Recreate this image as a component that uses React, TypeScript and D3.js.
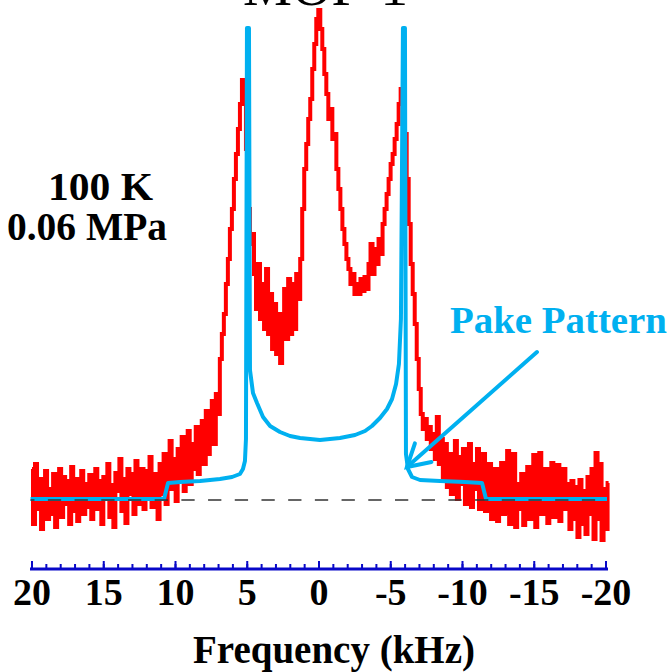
import React from "react";
import * as d3 from "d3";

// ---------- data ----------
const TITLE = "MOF-1";
const CONDITION_LINES = ["100 K", "0.06 MPa"];
const X_LABEL = "Frequency (kHz)";
const PAKE_LABEL = "Pake Pattern";

const MAJOR_TICKS = [20, 15, 10, 5, 0, -5, -10, -15, -20];
const MINOR_TICKS = d3.range(-20, 21, 1);

// measured spectrum (a.u.), sampled every 0.14 kHz starting at 20 kHz
const RED_START_KHZ = 20;
const RED_STEP_KHZ = 0.14;
const redIntensity = [
  30, -25, 35, -10, 20, -30, 15, 28, -20, 10, -15, 25, -28, 5, 30, -18, 22, -5, 18, -25,
  32, -12, 20, -22, 8, 28, -15, 15, -8, 24, -20, 12, 30, -10, 18, -25, 22, 0, 35, -18,
  14, -28, 26, 8, 40, -12, 20, -24, 30, 5, 25, -15, 38, -5, 22, 30, -10, 28, 0, 42,
  -8, 25, 15, -20, 35,
  5, 45, -5, 30, 58, 10, 40, -2, 50, 20, 62, 8, 45, 68, 15, 55, 30, 72, 25, 60,
  78, 35, 88, 45, 75, 98, 55, 105, 85, 140,
  165, 185, 215, 240, 270, 290, 320, 345, 370, 395, 419, 405, 350, 290, 255, 265,
  225, 190, 235, 180, 215, 170, 230, 165, 205, 150, 195, 145, 185, 136, 175, 210, 160, 220, 165, 215,
  170, 225, 200, 240,
  290, 330, 355, 380, 400, 430, 455, 480, 489, 470,
  450, 425, 405, 380, 390, 360, 365, 330, 310, 290, 270, 255, 240, 230, 215, 225, 205, 215, 205, 220,
  208, 222, 210, 235, 255, 225, 250, 235, 260, 245, 275, 290, 305, 320, 335, 345, 360, 375, 395, 410,
  400,
  365, 320, 275, 235, 205, 175, 140, 110, 85, 70, 80, 60, 72, 50, 65, 40, 82, 35, 60,
  20, 55, 12, 45, 5, 38, 58, 0, 42, 15, 50, -5, 30, 55, -8, 35, 10, 50, -10, 25,
  45, -12, 20, 35, -20, 15, 30, -22, 10, 36, -15, 5, 48, -25, 20, 45, -28, 15, -10, 25,
  -26, 10, 32, -20, 18, 44, -28, 20, 46, -15, 8, 30, -24, 12, 36, -18, 25, 34, -22, 5,
  30, -10, 15, -30, 18, -20, 12, -38, 19, -25, 8, -35, 22, -15, 30, -40, 46, -20, 35, -41,
  10, -30, 16,
];

// simulated Pake pattern (a.u.)
const pakeFreq = [
  20.1, 10.8, 10.66, 10.52, 9.69, 8.29, 6.9, 6.06, 5.51, 5.3, 5.16, 5.09, 5.02, 4.88,
  4.81, 4.6, 4.32, 3.9, 3.41, 2.72, 2.02, 1.32, -0.07, -1.46, -2.51, -3.21, -3.69, -4.25,
  -4.74, -5.09, -5.37, -5.57, -5.71, -5.85, -5.99, -6.06, -6.2, -6.48, -7.04, -8.43,
  -10.17, -11.36, -11.5, -11.64, -20.07,
];
const pakeIntensity = [
  0, 0, 8, 16, 17, 18, 20, 22, 25, 30, 38, 60, 471, 471,
  129, 106, 96, 82, 73, 67, 63, 61, 59, 61, 64, 68, 73, 81,
  90, 100, 115, 135, 180, 471, 471, 45, 30, 22, 19, 18,
  17, 16, 8, 0, 0,
];

// arrow annotation (tail -> tip), in data units
const arrowFreq = [-15.19, -6.13];
const arrowIntensity = [147, 32];

const RED = "#ff0000";
const CYAN = "#00b0f0";
const AXIS_BLUE = "#0808c8";
const SERIF = "Liberation Serif";

export default function App() {
  const W = 672;
  const H = 672;
  const x = d3.scaleLinear().domain([20, -20]).range([32, 606]);
  const y = d3.scaleLinear().domain([0, 500]).range([499, -1]);

  const redPts: [number, number][] = redIntensity.map((v, i) => [
    RED_START_KHZ - i * RED_STEP_KHZ,
    v,
  ]);
  const redLine = d3
    .line<[number, number]>()
    .x((d) => x(d[0]))
    .y((d) => y(d[1]))
    .curve(d3.curveStep);

  const pakePts: [number, number][] = pakeFreq.map((f, i) => [f, pakeIntensity[i]]);
  const pakeLine = d3
    .line<[number, number]>()
    .x((d) => x(d[0]))
    .y((d) => y(d[1]));

  const axisY = 569;

  // arrow geometry
  const tx = x(arrowFreq[1]);
  const ty = y(arrowIntensity[1]);
  const sx = x(arrowFreq[0]);
  const sy = y(arrowIntensity[0]);
  const ang = Math.atan2(sy - ty, sx - tx);
  const headLen = 25;
  const spread = (30 * Math.PI) / 180;
  const h1 = [tx + headLen * Math.cos(ang - spread), ty + headLen * Math.sin(ang - spread)];
  const h2 = [tx + headLen * Math.cos(ang + spread), ty + headLen * Math.sin(ang + spread)];

  const serif = { fontFamily: SERIF };

  return (
    <svg
      width={W}
      height={H}
      viewBox={`0 0 ${W} ${H}`}
      style={{ position: "absolute", left: 0, top: 0, background: "#fff" }}
    >
      <rect width={W} height={H} fill="#fff" />
      {/* title (cut off at top, as in the original) */}
      <text x={243} y={5} fontSize={55} fill="#000" style={serif} textLength={165} lengthAdjust="spacingAndGlyphs">
        {TITLE}
      </text>

      {/* measured spectrum */}
      <path d={redLine(redPts) || ""} fill="none" stroke={RED} strokeWidth={4} strokeLinejoin="miter" />

      {/* Pake pattern */}
      <path
        d={pakeLine(pakePts) || ""}
        fill="none"
        stroke={CYAN}
        strokeWidth={4}
        strokeLinejoin="round"
        strokeLinecap="butt"
      />

      {/* zero baseline */}
      <line
        x1={x(20.1)}
        x2={x(-20.07)}
        y1={y(-1)}
        y2={y(-1)}
        stroke="#333"
        strokeWidth={1.6}
        strokeDasharray="13.3 13.4"
        strokeDashoffset={9.4}
      />

      {/* arrow */}
      <g stroke={CYAN} strokeWidth={4} strokeLinecap="round" fill="none">
        <line x1={sx} y1={sy} x2={tx} y2={ty} />
        <polyline points={`${h1[0]},${h1[1]} ${tx},${ty} ${h2[0]},${h2[1]}`} strokeLinejoin="miter" />
      </g>
      <text
        x={450}
        y={333}
        fontSize={38}
        fontWeight="bold"
        fill={CYAN}
        style={serif}
        textLength={217}
        lengthAdjust="spacingAndGlyphs"
      >
        {PAKE_LABEL}
      </text>

      {/* condition labels */}
      <text x={48} y={200} fontSize={39} fontWeight="bold" fill="#000" style={serif} textLength={105} lengthAdjust="spacingAndGlyphs">
        {CONDITION_LINES[0]}
      </text>
      <text x={7} y={240} fontSize={39} fontWeight="bold" fill="#000" style={serif} textLength={160} lengthAdjust="spacingAndGlyphs">
        {CONDITION_LINES[1]}
      </text>

      {/* x axis */}
      <g stroke={AXIS_BLUE}>
        <line x1={x(20) - 2} x2={x(-20) + 2} y1={axisY} y2={axisY} strokeWidth={3} />
        {MINOR_TICKS.map((t) => (
          <line key={"m" + t} x1={x(t)} x2={x(t)} y1={axisY} y2={axisY - 5} strokeWidth={2} />
        ))}
        {MAJOR_TICKS.map((t) => (
          <line key={"M" + t} x1={x(t)} x2={x(t)} y1={axisY} y2={axisY - 8} strokeWidth={2} />
        ))}
      </g>
      {MAJOR_TICKS.map((t) => (
        <text
          key={"l" + t}
          x={x(t)}
          y={605}
          fontSize={38}
          fontWeight="bold"
          textAnchor="middle"
          fill="#000"
          style={serif}
        >
          {t < 0 ? "-" + Math.abs(t) : String(t)}
        </text>
      ))}
      <text x={334} y={663} fontSize={39} fontWeight="bold" textAnchor="middle" fill="#000" style={serif}>
        {X_LABEL}
      </text>
    </svg>
  );
}
